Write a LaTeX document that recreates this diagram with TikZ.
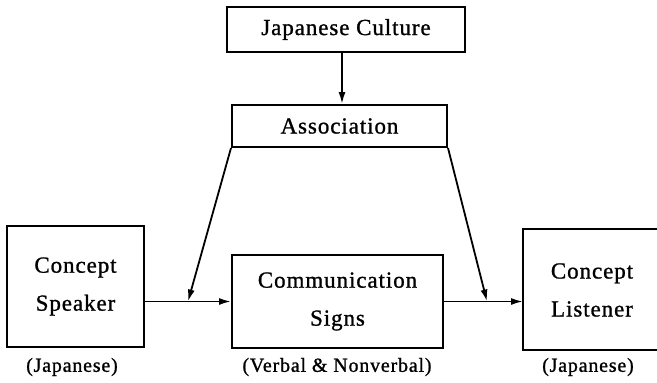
\documentclass[tikz,border=0pt]{standalone}
\usepackage{fontspec}
\setmainfont{Liberation Serif}[LetterSpace=4,FakeBold=1]
\usetikzlibrary{arrows.meta}
\begin{document}
\begin{tikzpicture}[x=1pt,y=-1pt,
  box/.style={draw, line width=2pt, inner sep=0pt, align=center,
    font=\fontsize{23}{38}\selectfont},
  txt/.style={inner sep=0pt, align=center, font=\fontsize{23}{38}\selectfont},
  lbl/.style={inner sep=0pt, font=\fontsize{20}{22}\selectfont},
  arr/.style={-{Latex[length=12pt,width=7pt]}, line width=1.8pt},
  edge/.style={line width=2pt}]
\useasboundingbox (0,0) rectangle (657,383);
% boxes
\node[box, minimum width=238pt, minimum height=45pt] (jc) at (346,29.5) {Japanese Culture};
\node[box, minimum width=215pt, minimum height=42pt] (assoc) at (339.5,126) {Association};
\node[box, minimum width=137pt, minimum height=121pt] (speaker) at (75.5,286.5) {Concept\\Speaker};
\node[box, minimum width=211pt, minimum height=93pt] (comm) at (337.5,301.5) {Communication\\Signs};
\node[txt] (listener) at (592,290) {Concept\\Listener};
\coordinate (ltl) at (523,229);
\coordinate (lbl) at (523,350);
\coordinate (ltr) at (662,229);
\coordinate (lbr) at (662,350);
\draw[edge] (ltr) -- (ltl) -- (lbl) -- (lbr);
% labels
\node[lbl] (l1) at (72,367) {(Japanese)};
\node[lbl] (l2) at (337,367) {(Verbal \& Nonverbal)};
\node[lbl] (l3) at (588,367) {(Japanese)};
% connectors
\coordinate (m1) at (188,301.5);
\coordinate (m2) at (487,301.5);
\draw[arr] ([xshift=-4pt]jc.south) -- ([xshift=2.5pt]assoc.north);
\draw[arr] (speaker.east |- comm.west) -- (comm.west);
\draw[arr] (comm.east) -- (ltl |- comm.east);
\draw[arr] (assoc.south west) -- (m1);
\draw[arr] (assoc.south east) -- (m2);
\end{tikzpicture}
\end{document}
